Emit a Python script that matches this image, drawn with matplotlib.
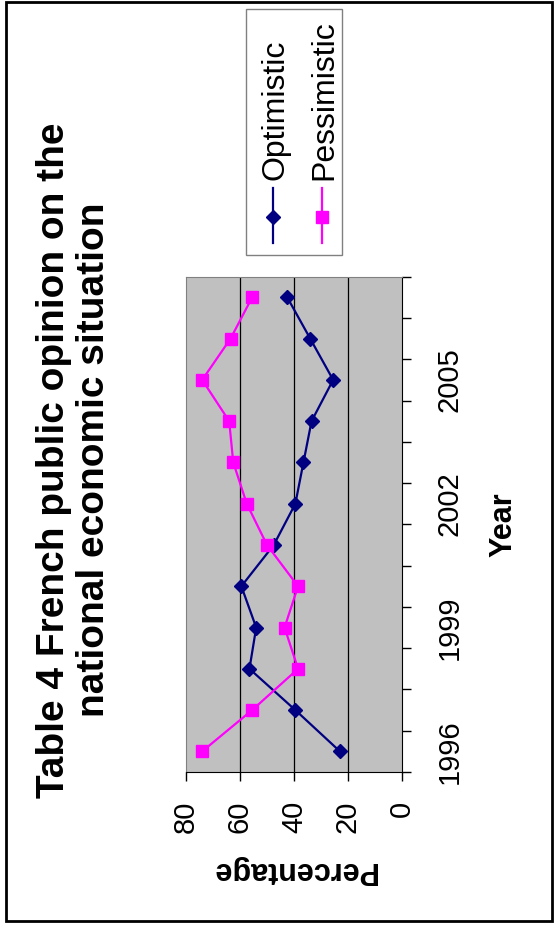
import numpy as np
import matplotlib
matplotlib.use("Agg")
import matplotlib.pyplot as plt
from matplotlib.lines import Line2D
from matplotlib.patches import Rectangle

plt.rcParams['font.family'] = ['Liberation Sans', 'DejaVu Sans']

years = list(range(1996, 2008))
shown_years = ['1996', '1999', '2002', '2005']
optimistic = [23, 39.5, 56.5, 54, 59.5, 47.5, 39.5, 36.5, 33.5, 25.5, 34, 42.5]
pessimistic = [74, 55.5, 38.5, 43.5, 38.5, 50, 57.5, 62.5, 64, 74, 63.5, 55.5]
pct_ticks = [0, 20, 40, 60, 80]

W, H = 556, 932
NAVY = '#000080'
MAGENTA = '#FF00FF'


def px(x, y):
    # pixel position (from top-left) -> figure fraction
    return x / W, 1 - y / H


fig = plt.figure(figsize=(W / 100, H / 100), dpi=100)

# whole chart is turned 90 degrees: percentage runs right-to-left, years bottom-to-top
left, top = px(186, 276.7)
right, bottom = px(402, 772)
ax = fig.add_axes([left, bottom, right - left, top - bottom])
ax.set_facecolor('#C0C0C0')

pos = np.arange(len(years))
ax.plot(optimistic, pos, color=NAVY, lw=1.6, marker='D', ms=7.1, zorder=3)
ax.plot(pessimistic, pos, color=MAGENTA, lw=1.6, marker='s', ms=8, zorder=4)

ax.set_xlim(80, 0)
ax.set_ylim(-0.5, len(years) - 0.5)

# percentage axis (bottom)
ax.set_xticks(pct_ticks)
ax.set_xticklabels([str(v) for v in pct_ticks], rotation=90, fontsize=21)
ax.tick_params(axis='x', direction='out', length=6.5, width=1, pad=14, color='black')
for v in pct_ticks[1:-1]:
    ax.axvline(v, color='black', lw=0.9, zorder=1)
ax.set_xlabel('Percentage', rotation=180, fontsize=22, fontweight='bold', labelpad=16)

# year axis (right)
ax.yaxis.tick_right()
ax.yaxis.set_label_position('right')
ax.set_yticks(np.arange(-0.5, len(years)))
ax.set_yticklabels([])
ax.set_yticks([years.index(int(y)) for y in shown_years], minor=True)
ax.set_yticklabels(shown_years, minor=True, rotation=90, fontsize=21, va='center')
ax.tick_params(axis='y', which='major', direction='out', length=6.5, width=1, color='black')
ax.tick_params(axis='y', which='minor', length=0, pad=24)
ax.set_ylabel('Year', rotation=90, fontsize=22, fontweight='bold', labelpad=18)

for s in ['left', 'top']:
    ax.spines[s].set_color('#808080')
for s in ['right', 'bottom']:
    ax.spines[s].set_color('black')

# title on the left side
tx, ty = px(74, 460)
fig.text(tx, ty, 'Table 4 French public opinion on the\nnational economic situation',
         rotation=90, ha='center', va='center', multialignment='center',
         fontsize=28, fontweight='bold', linespacing=1.15)

# legend (turned as well)
lx0, ly0 = px(246, 255)
lx1, ly1 = px(342, 9)
fig.add_artist(Rectangle((lx0, ly0), lx1 - lx0, ly1 - ly0, transform=fig.transFigure,
                         facecolor='white', edgecolor='#808080', lw=1))
for xc, xt, col, mk, ms, name in [(273.3, 283, NAVY, 'D', 7.1, 'Optimistic'),
                                  (321.7, 332, MAGENTA, 's', 8, 'Pessimistic')]:
    a, b = px(xc, 188)
    c, d = px(xc, 243)
    fig.add_artist(Line2D([a, c], [b, d], transform=fig.transFigure, color=col, lw=1.6))
    m1, m2 = px(xc, 216.7)
    fig.add_artist(Line2D([m1], [m2], transform=fig.transFigure, color=col,
                          marker=mk, ms=ms, lw=0))
    t1, t2 = px(xt, 180)
    fig.text(t1, t2, name, rotation=90, rotation_mode='anchor', ha='left', va='baseline',
             fontsize=23)

# outer frame
fx0, fy0 = px(5.5, 921)
fx1, fy1 = px(551.5, 2)
fig.add_artist(Rectangle((fx0, fy0), fx1 - fx0, fy1 - fy0, transform=fig.transFigure,
                         fill=False, edgecolor='black', lw=2))

fig.savefig('out.png', dpi=100)
